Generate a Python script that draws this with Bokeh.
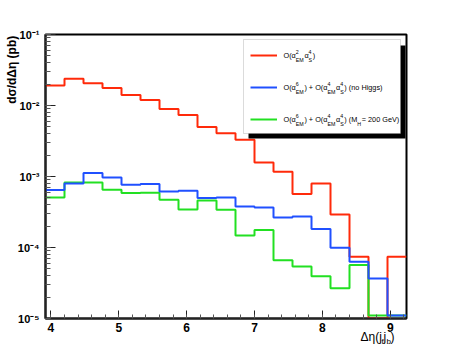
import math
from bokeh.plotting import figure
from bokeh.models import (Range1d, LogTicker, SingleIntervalTicker, Label,
                          BoxAnnotation, Legend, LegendItem,
                          CustomJSTickFormatter)
from bokeh.embed import file_html
from bokeh.resources import INLINE

# ---------------- data ----------------
bin_edges = [3.92, 4.20, 4.48, 4.76, 5.04, 5.32, 5.60, 5.88, 6.16, 6.44,
             6.72, 7.00, 7.28, 7.56, 7.84, 8.12, 8.40, 8.68, 8.96, 9.24]

qcd = [0.0191, 0.0239, 0.0206, 0.0177, 0.0141, 0.0120, 0.00895, 0.00737,
       0.00499, 0.00405, 0.0033, 0.00158, 0.00117, 0.000566, 0.00080,
       0.000292, 7.4e-5, 1.0e-5, 7.4e-5]
ew_no_higgs = [6.44e-4, 8.0e-4, 1.12e-3, 9.72e-4, 7.66e-4, 7.83e-4, 6.17e-4,
               6.31e-4, 4.97e-4, 5.08e-4, 3.79e-4, 3.67e-4, 2.65e-4, 2.74e-4,
               1.82e-4, 9.9e-5, 6.28e-5, 3.66e-5, 1.1e-5]
ew_higgs200 = [5.08e-4, 8.2e-4, 8.26e-4, 6.52e-4, 5.85e-4, 5.91e-4, 4.71e-4,
               3.44e-4, 4.6e-4, 3.40e-4, 1.48e-4, 1.76e-4, 6.63e-5, 5.39e-5,
               3.94e-5, 2.67e-5, 5.69e-5, 1.1e-5, 1.1e-5]

x_lo, x_hi = 3.92, 9.24
y_lo, y_hi = 1e-5, 1e-1

RED, BLUE, GREEN = "#ff2a0a", "#2050ff", "#22e022"
FONT = "Liberation Sans"

# ---------------- layout (canvas pixels) ----------------
W, H = 452, 354
FR_L, FR_R, FR_T, FR_B = 45.0, 406.0, 34.0, 318.0


def X(px):
    return x_lo + (px - FR_L) * (x_hi - x_lo) / (FR_R - FR_L)


def Y(py):
    lt, lb = math.log10(y_hi), math.log10(y_lo)
    return 10 ** (lt - (py - FR_T) * (lt - lb) / (FR_B - FR_T))


p = figure(width=W, height=H, x_range=Range1d(x_lo, x_hi),
           y_range=Range1d(y_lo, y_hi), y_axis_type="log",
           output_backend="svg", toolbar_location=None,
           min_border_left=int(FR_L), min_border_right=int(W - FR_R),
           min_border_top=int(FR_T), min_border_bottom=int(H - FR_B))
p.grid.visible = False
p.outline_line_color = "black"
p.outline_line_width = 2
p.background_fill_color = "white"
p.border_fill_color = "white"

xa = p.xaxis[0]
xa.ticker = SingleIntervalTicker(interval=1, num_minor_ticks=5)
xa.major_tick_in = 8
xa.major_tick_out = 0
xa.minor_tick_in = 4
xa.minor_tick_out = 0
xa.axis_line_width = 2
xa.axis_line_color = "#222222"
xa.major_tick_line_color = "#222222"
xa.minor_tick_line_color = "#555555"
xa.major_label_text_font = FONT
xa.major_label_text_font_style = "bold"
xa.major_label_text_font_size = "12px"
xa.major_label_text_color = "black"
xa.major_label_standoff = 4

ya = p.yaxis[0]
ya.ticker = LogTicker(mantissas=[1], desired_num_ticks=5, num_minor_ticks=10)
ya.formatter = CustomJSTickFormatter(code=r"""
const e = Math.round(Math.log10(tick));
const m = {"-": "\u207b", "0": "\u2070", "1": "\u00b9", "2": "\u00b2",
           "3": "\u00b3", "4": "\u2074", "5": "\u2075", "6": "\u2076",
           "7": "\u2077", "8": "\u2078", "9": "\u2079"};
return "10" + String(e).split("").map((c) => m[c]).join("");
""")
ya.major_tick_in = 10
ya.major_tick_out = 0
ya.minor_tick_in = 5
ya.minor_tick_out = 0
ya.axis_line_width = 2
ya.axis_line_color = "#222222"
ya.major_tick_line_color = "#222222"
ya.minor_tick_line_color = "#555555"
ya.major_label_text_font = FONT
ya.major_label_text_font_style = "bold"
ya.major_label_text_font_size = "11px"
ya.major_label_text_color = "black"
ya.major_label_standoff = 6

# y-axis title: ROOT puts it at the top end of the axis; Bokeh centres axis
# labels, so the text is pushed up with leading no-break spaces.
ytitle_text = "dσ/dΔη (pb)"
ya.axis_label = "\u00a0" * 64 + ytitle_text
ya.axis_label_standoff = -4
ya.axis_label_text_font = FONT
ya.axis_label_text_font_style = "bold"
ya.axis_label_text_font_size = "12px"
ya.axis_label_text_color = "black"

r_red = p.step(x=bin_edges, y=qcd + [qcd[-1]], mode="after",
               line_color=RED, line_width=2)
r_green = p.step(x=bin_edges, y=ew_higgs200 + [ew_higgs200[-1]], mode="after",
                 line_color=GREEN, line_width=2)
r_blue = p.step(x=bin_edges, y=ew_no_higgs + [ew_no_higgs[-1]], mode="after",
                line_color=BLUE, line_width=2)

# ---------------- legend box with shadow ----------------
p.add_layout(BoxAnnotation(left=X(248), right=X(405), top=Y(45), bottom=Y(138),
                           fill_color="black", fill_alpha=1.0, line_alpha=0))
p.add_layout(BoxAnnotation(left=X(243), right=X(400), top=Y(39), bottom=Y(133),
                           fill_color="white", fill_alpha=1.0,
                           line_color="#888888", line_width=1))

legend = Legend(items=[LegendItem(label=" ", renderers=[r_red]),
                       LegendItem(label=" ", renderers=[r_blue]),
                       LegendItem(label=" ", renderers=[r_green])],
                location=(250 - FR_L, FR_B - 129), orientation="vertical",
                glyph_width=27, glyph_height=20, spacing=12, padding=0,
                margin=0, label_height=20, label_width=1, label_standoff=0,
                label_text_font_size="1px", border_line_alpha=0,
                background_fill_alpha=0)
p.add_layout(legend, "center")

# ---------------- legend texts (rich, inside the frame) ----------------
EM_W = {'O': 0.778, '(': 0.333, ')': 0.333, 'α': 0.578, 'E': 0.667,
        'M': 0.833, 'S': 0.667, 'H': 0.722, '+': 0.584, ' ': 0.278,
        '=': 0.584, 'G': 0.778, 'e': 0.556, 'V': 0.667, 'n': 0.556,
        'o': 0.556, 'i': 0.222, 'g': 0.556, 's': 0.5}


def tw(s, size):
    return sum(EM_W.get(c, 0.556) for c in s) * size


def add_text(px, py, text, size):
    p.add_layout(Label(x=X(px), y=Y(py), text=text, text_baseline="middle",
                       text_align="left", text_font=FONT,
                       text_font_size=f"{size}px", text_color="black"))


def rich(pieces, x0, yc, size, ssize, sup_dy, sub_dy):
    x = x0
    for piece in pieces:
        if piece[0] == "n":
            add_text(x, yc, piece[1], size)
            x += tw(piece[1], size)
        else:
            sup, sub = piece[1], piece[2]
            if sup:
                add_text(x, yc + sup_dy, sup, ssize)
            if sub:
                add_text(x, yc + sub_dy, sub, ssize)
            x += max(tw(sup, ssize), tw(sub, ssize)) + 0.6


LS, LSS = 7.3, 5.3
rich([("n", "O(α"), ("s", "2", "EM"), ("n", "α"), ("s", "4", "S"), ("n", ")")],
     283, 55, LS, LSS, -3.5, 4.0)
rich([("n", "O(α"), ("s", "6", "EM"), ("n", ") + O(α"), ("s", "4", "EM"),
      ("n", "α"), ("s", "4", "S"), ("n", ") (no Higgs)")],
     283, 87, LS, LSS, -3.5, 4.0)
rich([("n", "O(α"), ("s", "6", "EM"), ("n", ") + O(α"), ("s", "4", "EM"),
      ("n", "α"), ("s", "4", "S"), ("n", ") (M"), ("s", "", "H"),
      ("n", " = 200 GeV)")],
     283, 119, LS, LSS, -3.5, 4.0)

# ---------------- x-axis title: pieces flowing in right-side panels -------
xt_pieces = [("Δη(j", "12px", 336), ("f", "8px", 341), ("j", "12px", 336),
             ("b", "8px", 341), (")", "12px", 336)]
for txt, fs, yc in xt_pieces:
    p.add_layout(Label(x=360 - FR_R, y=FR_B - yc, x_units="screen",
                       y_units="screen", text=txt, text_baseline="middle",
                       text_align="left", text_font=FONT, text_font_size=fs,
                       text_color="black"), "right")

open("out.html", "w").write(file_html(p, INLINE))
